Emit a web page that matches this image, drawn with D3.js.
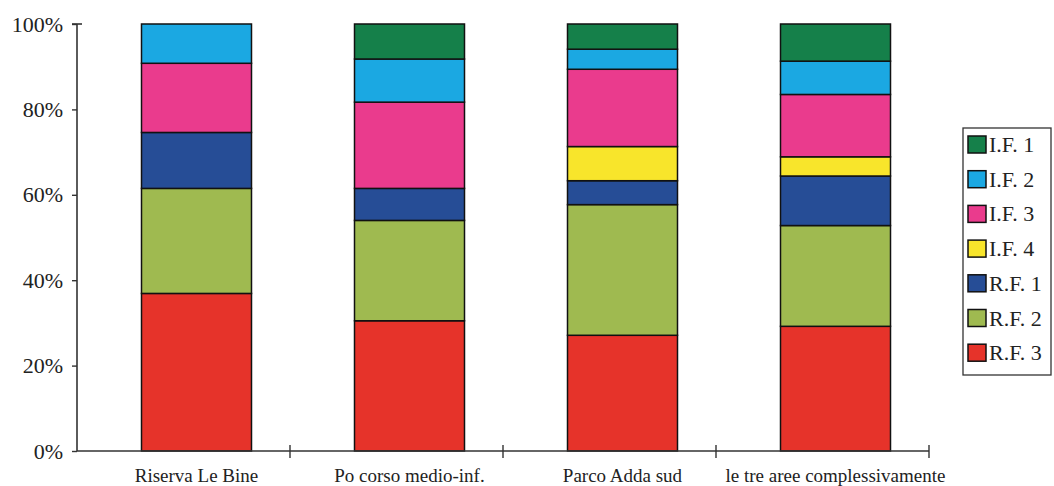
<!DOCTYPE html>
<html><head><meta charset="utf-8">
<script src="https://cdn.jsdelivr.net/npm/d3@7/dist/d3.min.js"></script>
<style>body{margin:0;background:#fff}svg{display:block}text{font-family:"Liberation Serif","Times New Roman",serif;fill:#222}</style>
</head><body><svg id="c" width="1054" height="486"></svg>
<script>
const categories = ["Riserva Le Bine", "Po corso medio-inf.", "Parco Adda sud", "le tre aree complessivamente"];
const seriesNames = ["R.F. 3", "R.F. 2", "R.F. 1", "I.F. 4", "I.F. 3", "I.F. 2", "I.F. 1"];
const rf3 = [36.9, 30.5, 27.1, 29.2];
const rf2 = [24.6, 23.5, 30.6, 23.6];
const rf1 = [13.1, 7.5, 5.6, 11.6];
const if4 = [0, 0, 8.0, 4.5];
const if3 = [16.2, 20.2, 18.1, 14.6];
const if2 = [9.2, 10.1, 4.7, 7.8];
const if1 = [0, 8.2, 5.9, 8.7];
const yTicks = [0, 20, 40, 60, 80, 100];
const colors = ["#e6332a", "#9fba50", "#264d96", "#f8e52b", "#ea3b8d", "#1ba8e2", "#15804a"];
const legendOrder = ["I.F. 1", "I.F. 2", "I.F. 3", "I.F. 4", "R.F. 1", "R.F. 2", "R.F. 3"];

const seriesValues = [rf3, rf2, rf1, if4, if3, if2, if1];
const rows = categories.map((c, i) => {
  const r = {cat: c};
  seriesNames.forEach((s, j) => r[s] = seriesValues[j][i]);
  return r;
});
const stack = d3.stack().keys(seriesNames)(rows);

const svg = d3.select("#c");
const x = d3.scaleBand().domain(categories).range([77, 929]).paddingInner(0).paddingOuter(0);
const y = d3.scaleLinear().domain([0, 100]).range([451, 24]);
const color = d3.scaleOrdinal().domain(seriesNames).range(colors);
const barW = 110, barOff = 13;

// bars
svg.append("g").selectAll("g").data(stack).join("g")
  .attr("fill", d => color(d.key))
  .selectAll("rect").data(d => d.filter(p => p[1] - p[0] > 0)).join("rect")
  .attr("x", d => x(d.data.cat) + x.bandwidth()/2 - barW/2 + barOff)
  .attr("width", barW)
  .attr("y", d => y(d[1]))
  .attr("height", d => y(d[0]) - y(d[1]))
  .attr("stroke", "#111").attr("stroke-width", 1.5);

// y axis
const ya = svg.append("g").attr("transform", "translate(77,0)")
  .call(d3.axisLeft(y).tickValues(yTicks).tickFormat(d => d + "%").tickSize(5).tickPadding(9));
ya.select(".domain").attr("stroke", "#333").attr("stroke-width", 1.6).attr("d", `M0,${y(100)}V${y(0)}`);
ya.selectAll(".tick line").attr("stroke", "#333").attr("stroke-width", 1.4);
ya.selectAll(".tick text").attr("font-size", 22).attr("fill", "#333").style("font-family", "Liberation Serif");
ya.append("line").attr("x1", -5).attr("x2", 5).attr("y1", y(100)).attr("y2", y(100)).attr("stroke", "#333").attr("stroke-width", 1.6);

// x axis
const xa = svg.append("g").attr("transform", `translate(0,${y(0)})`);
xa.append("line").attr("x1", 77).attr("x2", x.range()[1]).attr("stroke", "#333").attr("stroke-width", 1.6);
xa.selectAll("line.tk").data(categories).join("line").attr("class", "tk")
  .attr("x1", d => x(d) + x.bandwidth()).attr("x2", d => x(d) + x.bandwidth())
  .attr("y1", -6).attr("y2", 7).attr("stroke", "#333").attr("stroke-width", 1.4);
xa.selectAll("text").data(categories).join("text")
  .attr("x", d => x(d) + x.bandwidth()/2 + barOff).attr("y", 31)
  .attr("text-anchor", "middle").attr("font-size", 19).attr("fill", "#333").text(d => d);

// legend
const lg = svg.append("g").attr("transform", "translate(963,128)");
lg.append("rect").attr("width", 88).attr("height", 247).attr("fill", "#fff").attr("stroke", "#333").attr("stroke-width", 1.3);
const li = lg.selectAll("g").data(legendOrder).join("g").attr("transform", (d, i) => `translate(5,${8 + i * 34.7})`);
li.append("rect").attr("width", 18).attr("height", 17).attr("fill", d => color(d)).attr("stroke", "#111").attr("stroke-width", 1.5);
li.append("text").attr("x", 21).attr("y", 16).attr("font-size", 22).attr("fill", "#333").text(d => d);
</script></body></html>
